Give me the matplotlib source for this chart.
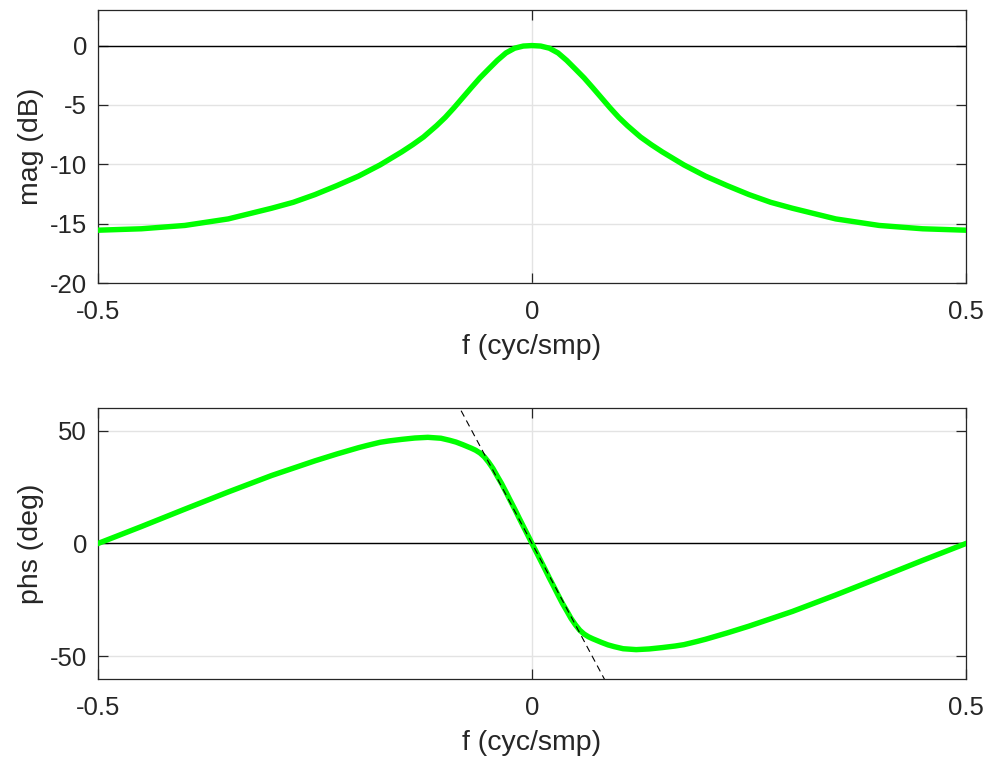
import numpy as np
import matplotlib.pyplot as plt

plt.rcParams['font.family'] = ['Liberation Sans', 'DejaVu Sans']

# magnitude response
f_mag = [-0.5, -0.45, -0.4, -0.35, -0.3, -0.275, -0.25, -0.225, -0.2, -0.175,
         -0.15, -0.1375, -0.125, -0.11, -0.1, -0.09, -0.08, -0.07, -0.06, -0.05, -0.04,
         -0.03, -0.02, -0.01, 0,
         0.01, 0.02, 0.03, 0.04, 0.05, 0.06, 0.07, 0.08, 0.09, 0.1,
         0.11, 0.125, 0.1375, 0.15, 0.175, 0.2, 0.225, 0.25, 0.275, 0.3, 0.35,
         0.4, 0.45, 0.5]
mag_db = [-15.55, -15.43, -15.15, -14.6, -13.7, -13.2, -12.55, -11.8, -11.0, -10.05,
          -8.95, -8.35, -7.7, -6.75, -6.05, -5.25, -4.4, -3.55, -2.72, -1.98, -1.25,
          -0.62, -0.22, -0.04, 0,
          -0.04, -0.22, -0.62, -1.25, -1.98, -2.72, -3.55, -4.4, -5.25, -6.05,
          -6.75, -7.7, -8.35, -8.95, -10.05, -11.0, -11.8, -12.55, -13.2, -13.7, -14.6,
          -15.15, -15.43, -15.55]

# phase response
f_phs = [-0.5, -0.45, -0.4, -0.35, -0.3, -0.25, -0.225, -0.2, -0.19, -0.175,
         -0.165, -0.15, -0.135, -0.12, -0.105, -0.095, -0.0875, -0.08, -0.07, -0.065,
         -0.06, -0.055, -0.05, -0.045, -0.04, -0.035, -0.03, -0.025, -0.02, -0.015,
         -0.01, -0.005, 0,
         0.005, 0.01, 0.015, 0.02, 0.025, 0.03, 0.035, 0.04, 0.045, 0.05,
         0.055, 0.06, 0.065, 0.07, 0.08, 0.0875, 0.095, 0.105, 0.12, 0.135,
         0.15, 0.165, 0.175, 0.19, 0.2, 0.225, 0.25, 0.3, 0.35, 0.4,
         0.45, 0.5]
phs_deg = [0, 7.5, 15.2, 22.8, 30.1, 36.6, 39.6, 42.4, 43.4, 44.8,
           45.4, 46.1, 46.7, 47.0, 46.6, 45.7, 44.9, 43.8, 42.2, 41.3,
           40.1, 38.4, 36.0, 33.2, 29.8, 26.5, 22.8, 19.0, 15.3, 11.4,
           7.6, 3.8, 0,
           -3.8, -7.6, -11.4, -15.3, -19.0, -22.8, -26.5, -29.8, -33.2, -36.0,
           -38.4, -40.1, -41.3, -42.2, -43.8, -44.9, -45.7, -46.6, -47.0, -46.7,
           -46.1, -45.4, -44.8, -43.4, -42.4, -39.6, -36.6, -30.1, -22.8, -15.2,
           -7.5, 0]

# linear phase reference (2 sample delay)
ref_f = [-0.5, 0.5]
ref_phs = [360, -360]

xticks = [-0.5, 0, 0.5]
xticklabels = ['-0.5', '0', '0.5']

txt = '#262626'
grid_c = '#e3e3e3'
green = '#00ff00'

fig = plt.figure(figsize=(9.86, 7.66), dpi=100)
ax1 = fig.add_axes([0.0994, 0.6305, 0.8803, 0.3565])
ax2 = fig.add_axes([0.0994, 0.1136, 0.8803, 0.3538])


def style(ax, yticks):
    ax.set_xlim(-0.5, 0.5)
    ax.set_xticks(xticks)
    ax.set_xticklabels(xticklabels)
    ax.set_yticks(yticks)
    ax.set_yticklabels([str(v) for v in yticks])
    ax.grid(True, color=grid_c, linewidth=1.0)
    ax.set_axisbelow(True)
    ax.tick_params(direction='in', length=7, width=0.9, colors=txt,
                   labelsize=18.5, top=True, right=True)
    ax.tick_params(axis='x', pad=12.5)
    ax.tick_params(axis='y', pad=8)
    for s in ax.spines.values():
        s.set_color(txt)
        s.set_linewidth(0.9)
    ax.set_xlabel('f (cyc/smp)', fontsize=20.5, color=txt, labelpad=7)


ax1.axhline(0, color='k', linewidth=1.0, zorder=2)
ax1.plot(f_mag, mag_db, color=green, linewidth=3.9, zorder=3)
ax1.set_ylim(-20, 3)
style(ax1, [-20, -15, -10, -5, 0])
ax1.set_ylabel('mag (dB)', fontsize=20.5, color=txt, labelpad=4)

ax2.axhline(0, color='k', linewidth=1.0, zorder=2)
ax2.plot(f_phs, phs_deg, color=green, linewidth=3.9, zorder=3)
ax2.plot(ref_f, ref_phs, color='k', linewidth=0.8, dashes=(6, 4), zorder=4)
ax2.set_ylim(-60, 60)
style(ax2, [-50, 0, 50])
ax2.set_ylabel('phs (deg)', fontsize=20.5, color=txt, labelpad=4)

fig.savefig('out.png', dpi=100)
